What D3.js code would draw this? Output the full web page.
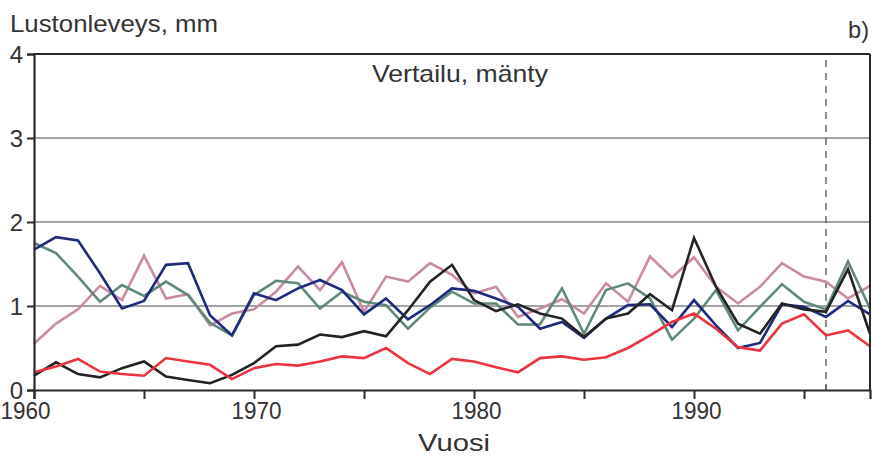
<!DOCTYPE html>
<html><head><meta charset="utf-8">
<script src="https://cdn.jsdelivr.net/npm/d3@7"></script>
<style>body{margin:0;background:#fff}svg{display:block}text{font-family:"Liberation Sans",Arial,sans-serif;fill:#333}</style>
</head><body><svg id="c" width="872" height="457"></svg>
<script>
const years = d3.range(1960, 1999);
const red   = [0.21,0.28,0.37,0.22,0.19,0.17,0.38,0.34,0.30,0.13,0.26,0.31,0.29,0.34,0.40,0.38,0.50,0.32,0.19,0.37,0.34,0.27,0.21,0.38,0.40,0.36,0.39,0.50,0.65,0.81,0.91,0.73,0.51,0.47,0.79,0.90,0.65,0.71,0.52];
const black = [0.17,0.33,0.19,0.15,0.26,0.34,0.16,0.12,0.08,0.18,0.32,0.52,0.54,0.66,0.63,0.70,0.64,0.95,1.29,1.49,1.07,0.94,1.02,0.91,0.85,0.63,0.85,0.91,1.14,0.95,1.81,1.23,0.79,0.67,1.03,0.96,0.93,1.44,0.67];
const navy  = [1.67,1.82,1.78,1.39,0.97,1.06,1.49,1.51,0.89,0.65,1.15,1.07,1.21,1.31,1.19,0.90,1.09,0.84,1.01,1.21,1.18,1.09,0.99,0.73,0.81,0.62,0.85,1.01,1.02,0.75,1.07,0.77,0.50,0.56,1.02,0.99,0.87,1.06,0.90];
const green = [1.75,1.63,1.35,1.05,1.25,1.12,1.29,1.13,0.80,0.65,1.13,1.30,1.27,0.97,1.17,1.05,1.01,0.73,0.98,1.17,1.03,1.03,0.78,0.78,1.21,0.67,1.19,1.27,1.09,0.60,0.85,1.19,0.71,0.99,1.26,1.05,0.96,1.53,0.97];
const pink  = [0.55,0.79,0.96,1.24,1.07,1.60,1.09,1.14,0.77,0.91,0.96,1.17,1.47,1.19,1.52,0.93,1.35,1.29,1.51,1.37,1.15,1.23,0.87,0.97,1.08,0.91,1.27,1.05,1.59,1.34,1.58,1.23,1.03,1.23,1.51,1.35,1.29,1.09,1.24];
const yTicks = [0,1,2,3,4];
const xTicks = [1960,1970,1980,1990];
const xMinor = [1965,1975,1985,1995];
const markYear = 1996;

const series = [
  {v: pink,  c: "#c98ba3"},
  {v: green, c: "#5f8a7a"},
  {v: navy,  c: "#1e2a7c"},
  {v: black, c: "#232323"},
  {v: red,   c: "#ec3340"}
];

const svg = d3.select("#c");
const x = d3.scaleLinear().domain([1960, 1998]).range([34, 870]);
const y = d3.scaleLinear().domain([0, 4]).range([390, 54]);

svg.append("g").selectAll("line").data([1,2,3]).join("line")
  .attr("x1", 34).attr("x2", 870).attr("y1", d=>y(d)).attr("y2", d=>y(d))
  .attr("stroke", "#4a4a4a").attr("stroke-width", 1.2);

svg.append("line").attr("x1", x(markYear)).attr("x2", x(markYear))
  .attr("y1", 60).attr("y2", 390).attr("stroke", "#555").attr("stroke-width", 1.3)
  .attr("stroke-dasharray", "7,6");

const line = d3.line().x((d,i)=>x(years[i])).y(d=>y(d));
svg.append("g").selectAll("path").data(series).join("path")
  .attr("d", d=>line(d.v)).attr("fill","none").attr("stroke", d=>d.c)
  .attr("stroke-width", 2.6).attr("stroke-linejoin","miter");

svg.append("line").attr("x1",34).attr("x2",870).attr("y1",y(4)).attr("y2",y(4)).attr("stroke","#2a2a2a").attr("stroke-width",2);
svg.append("line").attr("x1",870).attr("x2",870).attr("y1",y(4)).attr("y2",y(0)).attr("stroke","#2a2a2a").attr("stroke-width",2);

const yAxis = d3.axisLeft(y).tickValues(yTicks).tickSize(7).tickPadding(4).tickFormat(d3.format("d"));
const gy = svg.append("g").attr("transform","translate(34,0)").call(yAxis);
const xAxis = d3.axisBottom(x).tickValues(xTicks.concat(xMinor)).tickSize(9).tickPadding(3)
  .tickFormat(d => xTicks.includes(d) ? d : "");
const gx = svg.append("g").attr("transform","translate(0,390)").call(xAxis);
[gx, gy].forEach(g=>{
  g.select(".domain").attr("stroke","#2a2a2a").attr("stroke-width",2.2);
  g.selectAll(".tick line").attr("stroke","#2a2a2a").attr("stroke-width",2);
  g.selectAll("text").attr("font-family","Liberation Sans, Arial, sans-serif").attr("font-size",24).attr("fill","#333");
});
gx.selectAll("text").attr("dy","0.72em").attr("dx", d => d === 1960 ? -9 : 2).attr("textLength", 50).attr("lengthAdjust","spacingAndGlyphs");
gy.selectAll("text").attr("dy","0.36em");
svg.append("line").attr("x1",x(markYear)).attr("x2",x(markYear)).attr("y1",384).attr("y2",390).attr("stroke","#555").attr("stroke-width",1.3);

svg.append("text").attr("x",10).attr("y",32).attr("font-size",24).attr("textLength",208).attr("lengthAdjust","spacingAndGlyphs").text("Lustonleveys, mm");
svg.append("text").attr("x",848).attr("y",38).attr("font-size",24).attr("textLength",21).attr("lengthAdjust","spacingAndGlyphs").text("b)");
svg.append("text").attr("x",372).attr("y",82).attr("font-size",24).attr("textLength",176).attr("lengthAdjust","spacingAndGlyphs").text("Vertailu, mänty");
svg.append("text").attr("x",418).attr("y",451).attr("font-size",24).attr("textLength",72).attr("lengthAdjust","spacingAndGlyphs").text("Vuosi");
</script></body></html>
